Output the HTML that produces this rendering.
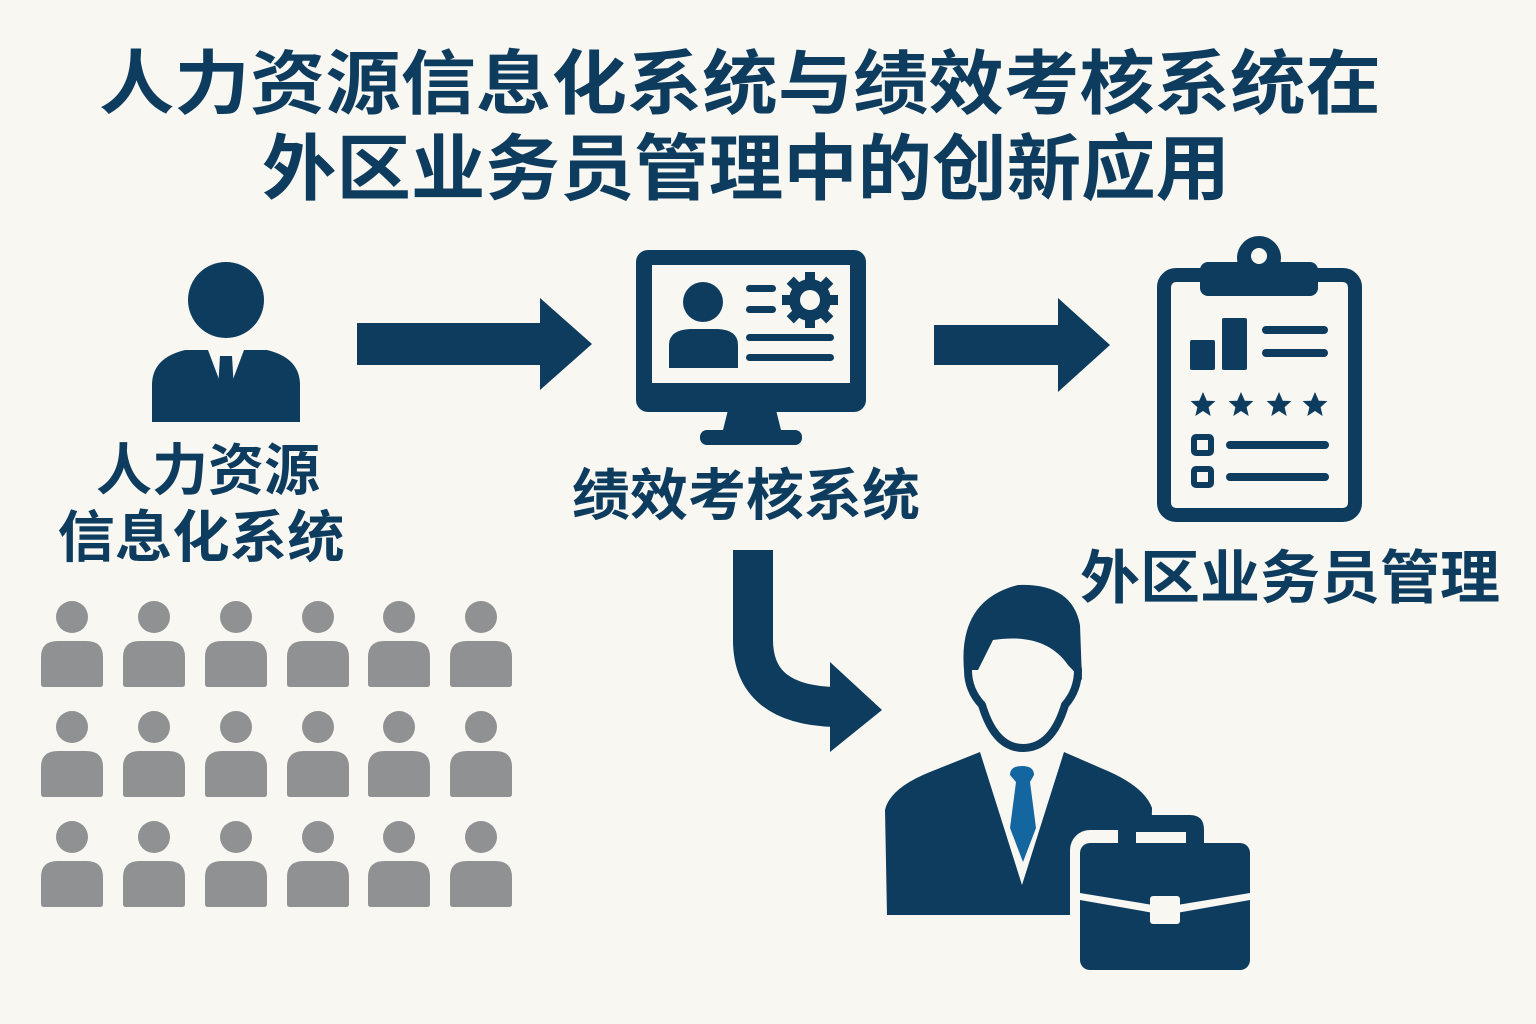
<!DOCTYPE html>
<html><head><meta charset="utf-8"><style>
html,body{margin:0;padding:0;background:#f8f7f2;}
svg{display:block}
text{font-family:"Liberation Sans","Noto Sans CJK SC",sans-serif;font-weight:bold;fill:#0e3c5e;}
</style></head><body>
<svg width="1536" height="1024" viewBox="0 0 1536 1024" xmlns="http://www.w3.org/2000/svg">
<defs>
<path id="s" d="M0 -13 L3.8 -4.2 L12.4 -4 L5.6 2.2 L7.7 11 L0 6 L-7.7 11 L-5.6 2.2 L-12.4 -4 L-3.8 -4.2 Z" fill="#0d3c5f"/>
<g id="p" fill="#8f9193"><circle cx="0" cy="0" r="16"/><path d="M-31 67 L-31 40 Q-31 24 -14 24 L14 24 Q31 24 31 40 L31 67 Q31 70 28 70 L-28 70 Q-31 70 -31 67 Z"/></g>
</defs>
<rect width="1536" height="1024" fill="#f8f7f2"/>
<text x="740" y="108" font-size="70" text-anchor="middle" textLength="1282" lengthAdjust="spacingAndGlyphs">人力资源信息化系统与绩效考核系统在</text>
<text x="746" y="194" font-size="72" text-anchor="middle" textLength="968" lengthAdjust="spacingAndGlyphs">外区业务员管理中的创新应用</text>

<g fill="#0d3c5f">
<circle cx="226" cy="300" r="38"/>
<path d="M152 422 L152 385 Q152 358 185 350 L267 350 Q300 358 300 385 L300 422 Z"/>
<path d="M208 350 L226 398 L244 350 Z" fill="#f8f7f2"/>
<path d="M220 356 L232 356 L234 390 L226 400 L218 390 Z"/>
<path d="M357 323 L540 323 L540 298 L592 344 L540 390 L540 365 L357 365 Z"/>
<path d="M934 325 L1058 325 L1058 298 L1110 345 L1058 392 L1058 365 L934 365 Z"/>
<path d="M753 550 L753 640 Q753 705 835 707" fill="none" stroke="#0d3c5f" stroke-width="40"/>
<path d="M830 662 L882 710 L830 752 Z"/>
<rect x="636" y="250" width="230" height="162" rx="12"/>
<rect x="652" y="265" width="198" height="118" fill="#f8f7f2"/>
<path d="M728 410 L776 410 L782 434 L722 434 Z"/>
<rect x="700" y="430" width="102" height="15" rx="7"/>
<circle cx="703" cy="302" r="20"/>
<path d="M669 368 L669 345 Q669 330 690 329 L718 329 Q738 330 738 345 L738 368 Z"/>
<rect x="746" y="285" width="30" height="7" rx="3.5"/>
<rect x="746" y="306" width="30" height="7" rx="3.5"/>
<rect x="746" y="334" width="88" height="7" rx="3.5"/>
<rect x="746" y="354" width="88" height="7" rx="3.5"/>
<g transform="translate(810,300)">
<circle r="21"/>
<rect x="-5" y="-28" width="10" height="12"/>
<rect x="-5" y="-28" width="10" height="12" transform="rotate(45)"/>
<rect x="-5" y="-28" width="10" height="12" transform="rotate(90)"/>
<rect x="-5" y="-28" width="10" height="12" transform="rotate(135)"/>
<rect x="-5" y="-28" width="10" height="12" transform="rotate(180)"/>
<rect x="-5" y="-28" width="10" height="12" transform="rotate(225)"/>
<rect x="-5" y="-28" width="10" height="12" transform="rotate(270)"/>
<rect x="-5" y="-28" width="10" height="12" transform="rotate(315)"/>
<circle r="10" fill="#f8f7f2"/>
</g>
<rect x="1164" y="275" width="191" height="240" rx="12" fill="none" stroke="#0d3c5f" stroke-width="14"/>
<rect x="1200" y="262" width="118" height="34" rx="8"/>
<circle cx="1259" cy="258" r="22"/>
<circle cx="1259" cy="256" r="8" fill="#f8f7f2"/>
<rect x="1190" y="340" width="25" height="30" rx="2"/>
<rect x="1222" y="318" width="25" height="52" rx="2"/>
<rect x="1262" y="326" width="66" height="8" rx="4"/>
<rect x="1262" y="349" width="66" height="8" rx="4"/>
<use href="#s" x="1203" y="405"/><use href="#s" x="1241" y="405"/><use href="#s" x="1279" y="405"/><use href="#s" x="1315" y="405"/>
<rect x="1194" y="437" width="17" height="16" rx="2" fill="none" stroke="#0d3c5f" stroke-width="6"/>
<rect x="1194" y="469" width="17" height="16" rx="2" fill="none" stroke="#0d3c5f" stroke-width="6"/>
<rect x="1226" y="441" width="103" height="8" rx="4"/>
<rect x="1226" y="473" width="103" height="8" rx="4"/>
<path d="M964 670 Q958 600 1018 585 Q1072 583 1080 625 L1082 680 L1068 665 Q1045 632 993 640 L978 670 Z"/>
<path d="M978 650 Q970 652 968 670 Q968 690 982 705 Q995 748 1023 748 Q1052 748 1065 705 Q1078 690 1078 670 Q1076 652 1068 650" fill="none" stroke="#0d3c5f" stroke-width="8"/>
<path d="M980 752 L1022 885 L1064 752 L1110 772 Q1145 788 1152 808 L1150 915 L887 915 L885 810 Q890 788 930 772 Z"/>
<path d="M1010 775 Q1010 766 1022 766 Q1034 766 1034 775 L1030 782 L1036 828 L1023 862 L1010 828 L1016 782 Z" fill="#1466a0"/>
<rect x="1070" y="830" width="192" height="152" rx="20" fill="#f8f7f2"/>
<rect x="1080" y="843" width="170" height="127" rx="10"/>
<path d="M1118 850 L1118 830 Q1118 815 1133 815 L1190 815 Q1204 815 1204 830 L1204 850 L1186 850 L1186 832 L1136 832 L1136 850 Z"/>
<path d="M1080 893 L1165 907 L1250 893 L1250 900 L1165 915 L1080 900 Z" fill="#f8f7f2"/>
<rect x="1150" y="896" width="30" height="28" rx="3" fill="#f8f7f2"/>
</g>
<use href="#p" x="72" y="617"/><use href="#p" x="154" y="617"/><use href="#p" x="236" y="617"/><use href="#p" x="318" y="617"/><use href="#p" x="399" y="617"/><use href="#p" x="481" y="617"/>
<use href="#p" x="72" y="727"/><use href="#p" x="154" y="727"/><use href="#p" x="236" y="727"/><use href="#p" x="318" y="727"/><use href="#p" x="399" y="727"/><use href="#p" x="481" y="727"/>
<use href="#p" x="72" y="837"/><use href="#p" x="154" y="837"/><use href="#p" x="236" y="837"/><use href="#p" x="318" y="837"/><use href="#p" x="399" y="837"/><use href="#p" x="481" y="837"/>
<text x="208" y="490" font-size="56" text-anchor="middle">人力资源</text>
<text x="201" y="557" font-size="56" text-anchor="middle" textLength="287" lengthAdjust="spacingAndGlyphs">信息化系统</text>
<text x="746" y="515" font-size="56" text-anchor="middle" textLength="348" lengthAdjust="spacingAndGlyphs">绩效考核系统</text>
<text x="1290" y="598" font-size="58" text-anchor="middle" textLength="420" lengthAdjust="spacingAndGlyphs">外区业务员管理</text>
</svg>
</body></html>
